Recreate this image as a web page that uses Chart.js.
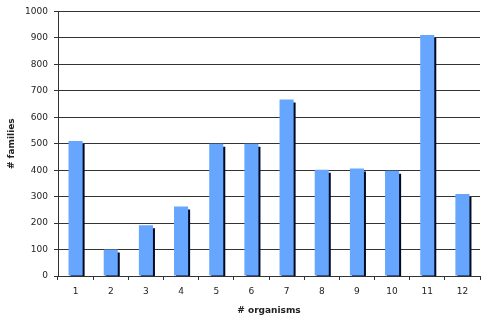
<!DOCTYPE html>
<html>
<head>
<meta charset="utf-8">
<script src="https://cdn.jsdelivr.net/npm/chart.js@4/dist/chart.umd.min.js"></script>
<style>
  html, body { margin: 0; padding: 0; background: #fff; }
  #wrap { width: 484px; height: 321px; }
</style>
</head>
<body>
<div id="wrap"><canvas id="familyChart"></canvas></div>
<script>
// Data
const organisms = ['1', '2', '3', '4', '5', '6', '7', '8', '9', '10', '11', '12'];
const families = [510, 100, 192, 263, 500, 500, 667, 402, 406, 398, 911, 310];
const yTicks = [0, 100, 200, 300, 400, 500, 600, 700, 800, 900, 1000];

const lineColor = '#333333';
const textColor = '#222222';
const fontFamily = "'DejaVu Sans', Verdana, sans-serif";

// Dark drop shadow on the right of each bar
const barShadow = {
  id: 'barShadow',
  beforeDatasetsDraw(chart) {
    const c = chart.ctx;
    c.save();
    c.shadowColor = '#000a22';
    c.shadowOffsetX = 2;
    c.shadowOffsetY = 3;
    c.shadowBlur = 0;
  },
  afterDatasetsDraw(chart) {
    chart.ctx.restore();
  }
};

const ctx = document.getElementById('familyChart').getContext('2d');
const familyChart = new Chart(ctx, {
  type: 'bar',
  data: {
    labels: organisms,
    datasets: [{
      label: '# families',
      data: families,
      backgroundColor: '#66a6ff',
      borderWidth: 0,
      categoryPercentage: 1,
      barPercentage: 0.4
    }]
  },
  options: {
    responsive: true,
    maintainAspectRatio: false,
    animation: false,
    layout: { padding: { top: 6, right: 4, left: 0, bottom: 0 } },
    plugins: {
      legend: { display: false },
      tooltip: { enabled: false }
    },
    scales: {
      x: {
        offset: true,
        grid: {
          offset: true,
          drawOnChartArea: false,
          color: lineColor,
          tickLength: 4
        },
        border: { color: lineColor },
        ticks: {
          color: textColor,
          font: { family: fontFamily, size: 9 },
          padding: 6,
          maxRotation: 0
        },
        title: {
          display: true,
          text: '# organisms',
          color: textColor,
          font: { family: fontFamily, size: 9, weight: 'bold' },
          padding: { top: 0, bottom: 5 }
        },
        afterFit(scale) { scale.height = 45; }
      },
      y: {
        min: 0,
        max: 1000,
        afterBuildTicks(scale) {
          scale.ticks = yTicks.map(v => ({ value: v }));
        },
        grid: {
          color: lineColor,
          tickLength: 4
        },
        border: { color: lineColor },
        ticks: {
          color: textColor,
          font: { family: fontFamily, size: 9 },
          padding: 6,
          callback: v => String(v)
        },
        title: {
          display: true,
          text: '# families',
          color: textColor,
          font: { family: fontFamily, size: 9, weight: 'bold' },
          padding: { top: 6, bottom: 0 }
        },
        afterFit(scale) { scale.width = 58; }
      }
    }
  },
  plugins: [barShadow]
});
</script>
</body>
</html>
